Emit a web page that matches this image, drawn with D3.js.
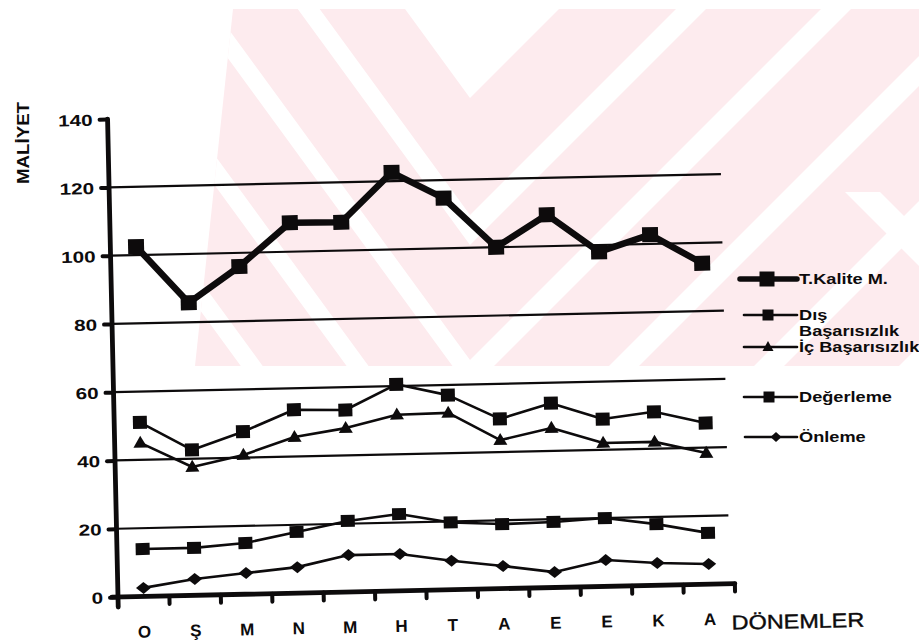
<!DOCTYPE html>
<html>
<head>
<meta charset="utf-8">
<script src="https://cdn.jsdelivr.net/npm/d3@7"></script>
<style>
  html, body { margin: 0; padding: 0; background: #fff; }
  svg { display: block; font-family: "Liberation Sans", Arial, sans-serif; }
</style>
</head>
<body>
<svg id="chart" width="919" height="642"></svg>
<script>
// Periods (month initials) and cost series
const categories = ["O", "Ş", "M", "N", "M", "H", "T", "A", "E", "E", "K", "A"];
const tKalite         = [102.5, 85.7, 96.0, 108.5, 108.3, 122.6, 114.7, 100.0, 109.2, 98.0, 102.7, 94.0];
const disBasarisizlik = [51.0, 42.6, 47.6, 53.7, 53.3, 60.5, 57.0, 49.7, 54.0, 49.0, 50.8, 47.2];
const icBasarisizlik  = [45.0, 37.6, 40.8, 45.7, 48.0, 51.6, 51.8, 43.5, 46.7, 42.0, 42.0, 38.4];
const degerleme       = [13.9, 13.9, 15.0, 17.9, 20.8, 22.5, 19.7, 18.9, 19.2, 20.0, 17.9, 15.0];
const onleme          = [2.5, 4.8, 6.2, 7.6, 10.8, 10.8, 8.5, 6.6, 4.5, 7.7, 6.5, 5.9];

const seriesNames = ["T.Kalite M.", "Dış Başarısızlık", "İç Başarısızlık", "Değerleme", "Önleme"];
const yTicks = [0, 20, 40, 60, 80, 100, 120, 140];
const gridValues = [20, 40, 60, 80, 100, 120];
const yTitle = "MALİYET";
const xTitle = "DÖNEMLER";

const INK = "#0d0b0c";
const svg = d3.select("#chart");

// ---- faint chevron watermark in the background ----
const defs = svg.append("defs");
defs.append("clipPath").attr("id", "wm-clip")
  .append("polygon").attr("points", "233,9 919,9 919,366 195,366");
const wm = svg.append("g").attr("clip-path", "url(#wm-clip)");
wm.append("rect").attr("x", 180).attr("y", 0).attr("width", 740).attr("height", 370).attr("fill", "#fdebee");
const apexX = 470, leftSlope = 1.37, topY = -40;
function vBand(a1, a2) {
  return [
    [apexX + (a1 - topY), topY], [apexX, a1], [apexX - (a1 - topY) / leftSlope, topY],
    [apexX - (a2 - topY) / leftSlope, topY], [apexX, a2], [apexX + (a2 - topY), topY]
  ];
}
wm.append("polygon").attr("fill", "#fff")
  .attr("points", [[apexX - (98 - topY) / leftSlope, topY], [apexX + (98 - topY), topY], [apexX, 98]].join(" "));
[[215, 245], [360, 390], [505, 535], [650, 680], [795, 825]].forEach(b => {
  wm.append("polygon").attr("fill", "#fff").attr("points", vBand(b[0], b[1]).join(" "));
});
wm.append("polygon").attr("fill", "#fff").attr("points", "845,192 880,192 960,272 925,272");

// ---- plot area (slightly tilted frame) ----
const plot = svg.append("g").attr("transform", "translate(118,597) rotate(-1.25)");

const x = d3.scaleBand().domain(d3.range(categories.length)).range([0, 617]);
const y = d3.scaleLinear().domain([0, 140]).range([0, -478]);
const cx = i => x(i) + x.bandwidth() / 2;

// horizontal gridlines
plot.selectAll("line.grid").data(gridValues).join("line")
  .attr("class", "grid")
  .attr("x1", 0).attr("x2", 612)
  .attr("y1", d => y(d)).attr("y2", d => y(d))
  .attr("stroke", INK).attr("stroke-width", 2.2);

// y axis
const yAxisG = plot.append("g")
  .call(d3.axisLeft(y).tickValues(yTicks).tickSize(8).tickSizeOuter(0));
yAxisG.select(".domain").remove();
yAxisG.selectAll(".tick line").attr("stroke", INK).attr("stroke-width", 4).attr("stroke-linecap", "round");
yAxisG.selectAll(".tick text")
  .attr("x", null).attr("dy", "0.36em")
  .attr("transform", "translate(-15,0) scale(1.29,1)")
  .attr("fill", INK).attr("font-size", 16).attr("font-weight", "bold")
  .attr("font-family", "'Liberation Sans', Arial, sans-serif");
plot.append("line").attr("x1", 0).attr("x2", 0).attr("y1", 10).attr("y2", y(140))
  .attr("stroke", INK).attr("stroke-width", 4.8).attr("stroke-linecap", "round");

// x axis
const xAxisG = plot.append("g")
  .call(d3.axisBottom(x).tickFormat(i => categories[i]).tickSize(0).tickPadding(29));
xAxisG.select(".domain").remove();
xAxisG.selectAll(".tick text")
  .attr("fill", INK).attr("font-size", 17).attr("font-weight", "bold")
  .attr("font-family", "'Liberation Sans', Arial, sans-serif");
plot.append("line").attr("x1", -6).attr("x2", x.range()[1]).attr("y1", 0).attr("y2", 0)
  .attr("stroke", INK).attr("stroke-width", 4.8).attr("stroke-linecap", "round");
plot.selectAll("line.xtick").data(d3.range(categories.length)).join("line")
  .attr("class", "xtick")
  .attr("x1", i => x(i) + x.bandwidth()).attr("x2", i => x(i) + x.bandwidth())
  .attr("y1", 0).attr("y2", 8)
  .attr("stroke", INK).attr("stroke-width", 4).attr("stroke-linecap", "round");

plot.append("text")
  .attr("transform", `translate(${x.range()[1] - 4},46) scale(1.17,1)`)
  .attr("font-size", 20).attr("fill", INK).attr("stroke", INK).attr("stroke-width", 0.4)
  .text(xTitle);

// marker shapes
function markerPath(shape, w, h) {
  if (shape === "square") return `M${-w / 2},${-h / 2}h${w}v${h}h${-w}Z`;
  if (shape === "triangle") return `M0,${-h * 0.6}L${w / 2},${h * 0.4}L${-w / 2},${h * 0.4}Z`;
  return `M${-w / 2},0L0,${-h / 2}L${w / 2},0L0,${h / 2}Z`;
}

const series = [
  { name: seriesNames[0], values: tKalite, shape: "square", w: 16, h: 15, lw: 6.5 },
  { name: seriesNames[1], values: disBasarisizlik, shape: "square", w: 14, h: 13, lw: 2.6 },
  { name: seriesNames[2], values: icBasarisizlik, shape: "triangle", w: 14, h: 12, lw: 2.6 },
  { name: seriesNames[3], values: degerleme, shape: "square", w: 14, h: 12, lw: 2.6 },
  { name: seriesNames[4], values: onleme, shape: "diamond", w: 15, h: 12, lw: 2.6 }
];

const line = d3.line().x((d, i) => cx(i)).y(d => y(d));
series.slice().reverse().forEach(s => {
  const g = plot.append("g");
  g.append("path").attr("d", line(s.values)).attr("fill", "none")
    .attr("stroke", INK).attr("stroke-width", s.lw).attr("stroke-linejoin", "round");
  g.selectAll("path.mk").data(s.values).join("path").attr("class", "mk")
    .attr("transform", (d, i) => `translate(${cx(i)},${y(d)})`)
    .attr("d", markerPath(s.shape, s.w, s.h)).attr("fill", INK);
});

// y title
svg.append("text")
  .attr("transform", "translate(29,143) rotate(-90) scale(1.1,1)")
  .attr("text-anchor", "middle").attr("font-size", 17).attr("font-weight", "bold").attr("fill", INK)
  .text(yTitle);

// ---- legend ----
const legendRows = [
  { s: series[0], y: 279, lines: ["T.Kalite M."], mx: 767, x1: 740 },
  { s: series[1], y: 315, lines: ["Dış", "Başarısızlık"], mx: 768, x1: 744 },
  { s: series[2], y: 347, lines: ["İç Başarısızlık"], mx: 768, x1: 744 },
  { s: series[3], y: 397, lines: ["Değerleme"], mx: 769, x1: 744 },
  { s: series[4], y: 437, lines: ["Önleme"], mx: 776, x1: 745 }
];
const legend = svg.append("g");
legendRows.forEach(r => {
  legend.append("line").attr("x1", r.x1).attr("x2", 797).attr("y1", r.y).attr("y2", r.y)
    .attr("stroke", INK).attr("stroke-width", r.s.lw === 6.5 ? 5.5 : 2.6).attr("stroke-linecap", "round");
  const mw = r.s.lw === 6.5 ? 15 : 11;
  legend.append("path").attr("transform", `translate(${r.mx},${r.y})`)
    .attr("d", markerPath(r.s.shape, mw, r.s.shape === "square" ? mw : 10)).attr("fill", INK);
  r.lines.forEach((t, k) => {
    legend.append("text")
      .attr("transform", `translate(799,${r.y + 5 + k * 16}) scale(1.3,1)`)
      .attr("font-size", 14).attr("font-weight", "bold").attr("fill", INK).text(t);
  });
});
</script>
</body>
</html>
